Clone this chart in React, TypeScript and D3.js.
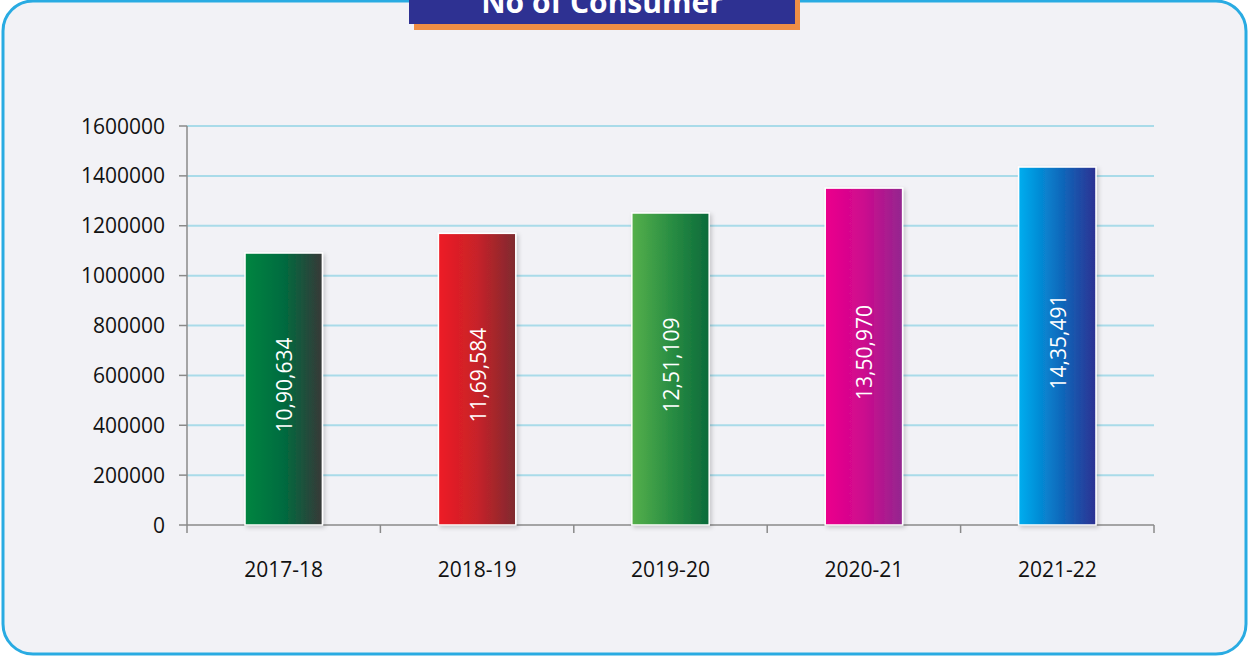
import React from "react";
import * as d3 from "d3";

const categories = ["2017-18", "2018-19", "2019-20", "2020-21", "2021-22"];
const consumers = [1090634, 1169584, 1251109, 1350970, 1435491];
const valueLabels = ["10,90,634", "11,69,584", "12,51,109", "13,50,970", "14,35,491"];
const yTicks = [0, 200000, 400000, 600000, 800000, 1000000, 1200000, 1400000, 1600000];
const gradientStops = [
  ["#00853f", "#006b3f", "#383838"],
  ["#ee1c25", "#c72229", "#7e2a2f"],
  ["#55b04a", "#2a8e43", "#0b6a3a"],
  ["#ec008c", "#cc0a8e", "#93278f"],
  ["#00aeef", "#0a6fc0", "#2e3192"],
];
const title = "No of Consumer";

const W = 1249;
const H = 657;
const left = 187;
const right = 1154;
const top = 126;
const bottom = 525;

export default function App() {
  const x = d3.scaleBand<string>().domain(categories).range([left, right]).padding(0);
  const y = d3.scaleLinear().domain([0, 1600000]).range([bottom, top]);
  const bw = x.bandwidth() * 0.4;
  const font = "'Open Sans', sans-serif";

  return (
    <svg width={W} height={H} style={{ position: "absolute", left: 0, top: 0, background: "#ffffff" }}>
      <defs>
        {gradientStops.map((s, i) => (
          <linearGradient key={i} id={`g${i}`} x1="0" x2="1" y1="0" y2="0">
            <stop offset="0%" stopColor={s[0]} />
            <stop offset="50%" stopColor={s[1]} />
            <stop offset="100%" stopColor={s[2]} />
          </linearGradient>
        ))}
        <filter id="shadow" x="-20%" y="-10%" width="140%" height="120%">
          <feDropShadow dx="2" dy="2" stdDeviation="2" floodColor="#000" floodOpacity="0.18" />
        </filter>
      </defs>
      <rect x={3} y={1} width={1243} height={653} rx={30} ry={30} fill="#f2f2f6" stroke="#29abe2" strokeWidth={3} />

      {/* title */}
      <rect x={414} y={-15} width={386} height={45} fill="#ef8e45" />
      <rect x={409} y={-20} width={386} height={44} fill="#2e3192" />
      <text x={602} y={13} textAnchor="middle" fill="#ffffff" fontFamily={font} fontWeight={700} fontSize={30}>
        {title}
      </text>

      {/* gridlines */}
      {yTicks.slice(1).map((t) => (
        <line key={t} x1={left} x2={right} y1={y(t)} y2={y(t)} stroke="#a9dbe9" strokeWidth={2} />
      ))}

      {/* y axis */}
      <line x1={left} x2={left} y1={y(1600000)} y2={bottom + 8} stroke="#8a8a8a" strokeWidth={1.5} />
      {yTicks.map((t) => (
        <g key={t}>
          <line x1={left - 8} x2={left} y1={y(t)} y2={y(t)} stroke="#8a8a8a" strokeWidth={1.5} />
          <text x={165} y={y(t)} dy="0.36em" textAnchor="end" fontFamily={font} fontSize={21} fill="#111111">
            {t}
          </text>
        </g>
      ))}

      {/* x axis */}
      <line x1={left} x2={right} y1={bottom} y2={bottom} stroke="#8a8a8a" strokeWidth={1.5} />
      {categories.map((c) => (
        <line key={c} x1={x(c)! + x.bandwidth()} x2={x(c)! + x.bandwidth()} y1={bottom} y2={bottom + 8} stroke="#8a8a8a" strokeWidth={1.5} />
      ))}

      {/* bars */}
      {categories.map((c, i) => {
        const cx = x(c)! + x.bandwidth() / 2;
        const yt = y(consumers[i]);
        return (
          <g key={c}>
            <rect
              x={cx - bw / 2}
              y={yt}
              width={bw}
              height={bottom - yt}
              fill={`url(#g${i})`}
              stroke="#ffffff"
              strokeWidth={1.5}
              filter="url(#shadow)"
            />
            <text
              transform={`translate(${cx + 1},${(yt + bottom) / 2 - 4}) rotate(-90)`}
              textAnchor="middle"
              dy="0.36em"
              fill="#ffffff"
              fontFamily={font}
              fontSize={21}
            >
              {valueLabels[i]}
            </text>
            <text x={cx} y={577} textAnchor="middle" fontFamily={font} fontSize={21} fill="#111111">
              {c}
            </text>
          </g>
        );
      })}
    </svg>
  );
}
